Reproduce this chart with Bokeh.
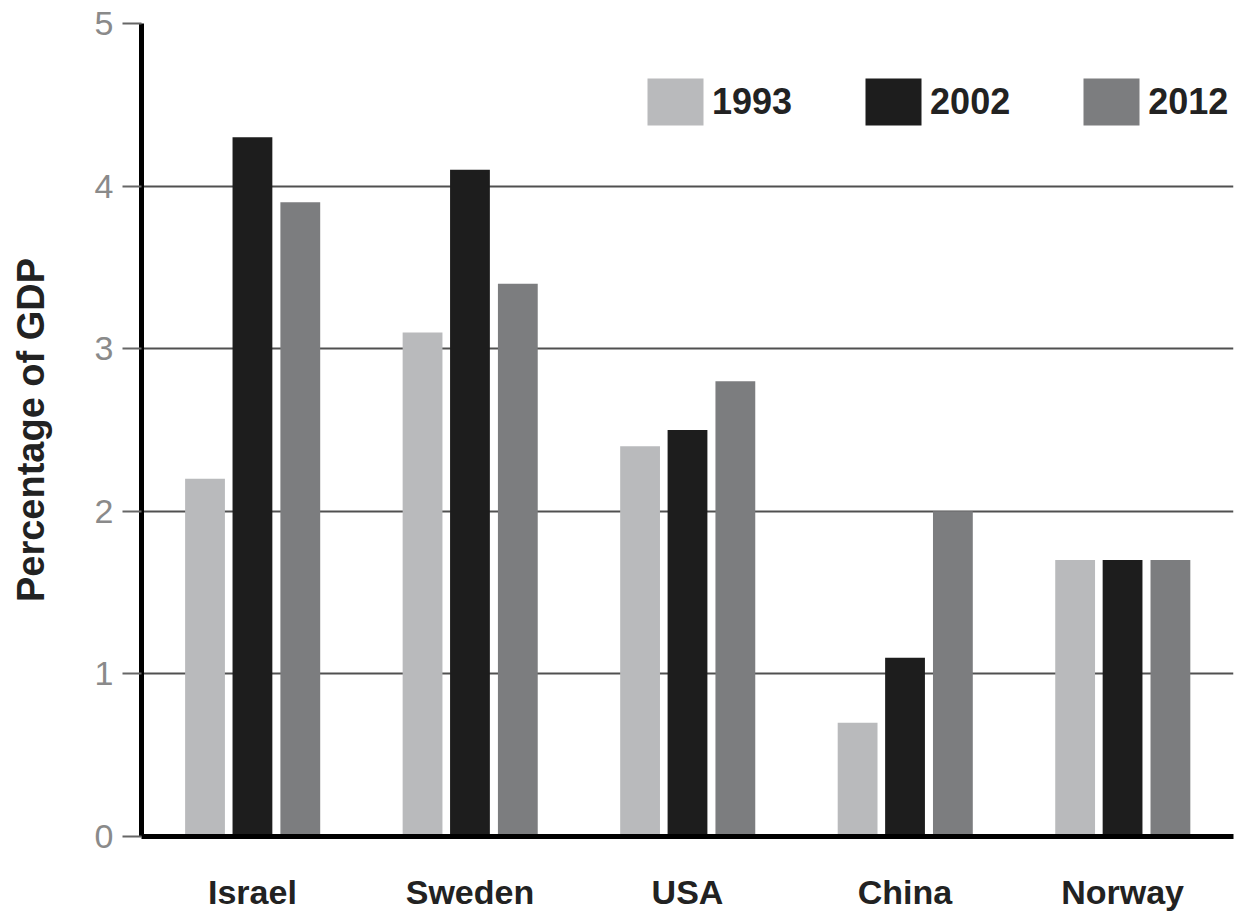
from bokeh.plotting import figure
from bokeh.models import ColumnDataSource, FactorRange, Legend, LegendItem
from bokeh.transform import dodge
from bokeh.embed import file_html
from bokeh.resources import INLINE

countries = ["Israel", "Sweden", "USA", "China", "Norway"]
years = ["1993", "2002", "2012"]
v1993 = [2.2, 3.1, 2.4, 0.7, 1.7]
v2002 = [4.3, 4.1, 2.5, 1.1, 1.7]
v2012 = [3.9, 3.4, 2.8, 2.0, 1.7]
y_ticks = [0, 1, 2, 3, 4, 5]
colors = ["#b9babc", "#1d1d1d", "#7c7d7f"]

src = ColumnDataSource(dict(country=countries, y1993=v1993, y2002=v2002, y2012=v2012))

p = figure(x_range=FactorRange(factors=countries, range_padding=0.004), y_range=(0, 5),
           width=1247, height=913, output_backend="svg", toolbar_location=None,
           min_border_left=141, min_border_right=14, min_border_top=23, min_border_bottom=73)
p.outline_line_color = None
p.background_fill_color = "white"

offsets = [-0.218, 0.0, 0.22]
renderers = []
for yr, off, col in zip(years, offsets, colors):
    r = p.vbar(x=dodge("country", off, range=p.x_range), top="y" + yr, width=0.183,
               source=src, fill_color=col, line_color=None)
    renderers.append(r)

legend = Legend(items=[LegendItem(label=yr, renderers=[r]) for yr, r in zip(years, renderers)],
                location=(499, 705), orientation="horizontal",
                glyph_width=70, glyph_height=59, label_standoff=2, spacing=66,
                padding=0, margin=0, border_line_alpha=0, background_fill_alpha=0,
                label_text_font="Liberation Sans", label_text_font_size="36px",
                label_text_font_style="bold", label_text_color="#222222")
p.add_layout(legend)

# grid
p.xgrid.grid_line_color = None
p.ygrid.grid_line_color = "#505050"
p.ygrid.grid_line_width = 2
p.ygrid.ticker = y_ticks

# y axis
p.yaxis.ticker = y_ticks
p.yaxis.axis_line_color = "black"
p.yaxis.axis_line_width = 5
p.yaxis.major_tick_out = 19
p.yaxis.major_tick_in = 0
p.yaxis.major_tick_line_color = "#666666"
p.yaxis.major_tick_line_width = 2
p.yaxis.minor_tick_line_color = None
p.yaxis.major_label_standoff = 9
p.yaxis.major_label_text_font = "Liberation Sans"
p.yaxis.major_label_text_font_size = "34px"
p.yaxis.major_label_text_color = "#8a8a8a"
p.yaxis.axis_label = "Percentage of GDP"
p.yaxis.axis_label_text_font = "Liberation Sans"
p.yaxis.axis_label_text_font_size = "38px"
p.yaxis.axis_label_text_font_style = "bold"
p.yaxis.axis_label_text_color = "#222222"
p.yaxis.axis_label_standoff = 40

# x axis
p.xaxis.axis_line_color = "black"
p.xaxis.axis_line_width = 5
p.xaxis.major_tick_line_color = None
p.xaxis.minor_tick_line_color = None
p.xaxis.major_label_standoff = 30
p.xaxis.major_label_text_font = "Liberation Sans"
p.xaxis.major_label_text_font_size = "34px"
p.xaxis.major_label_text_font_style = "bold"
p.xaxis.major_label_text_color = "#222222"

open("out.html", "w").write(file_html(p, INLINE))
